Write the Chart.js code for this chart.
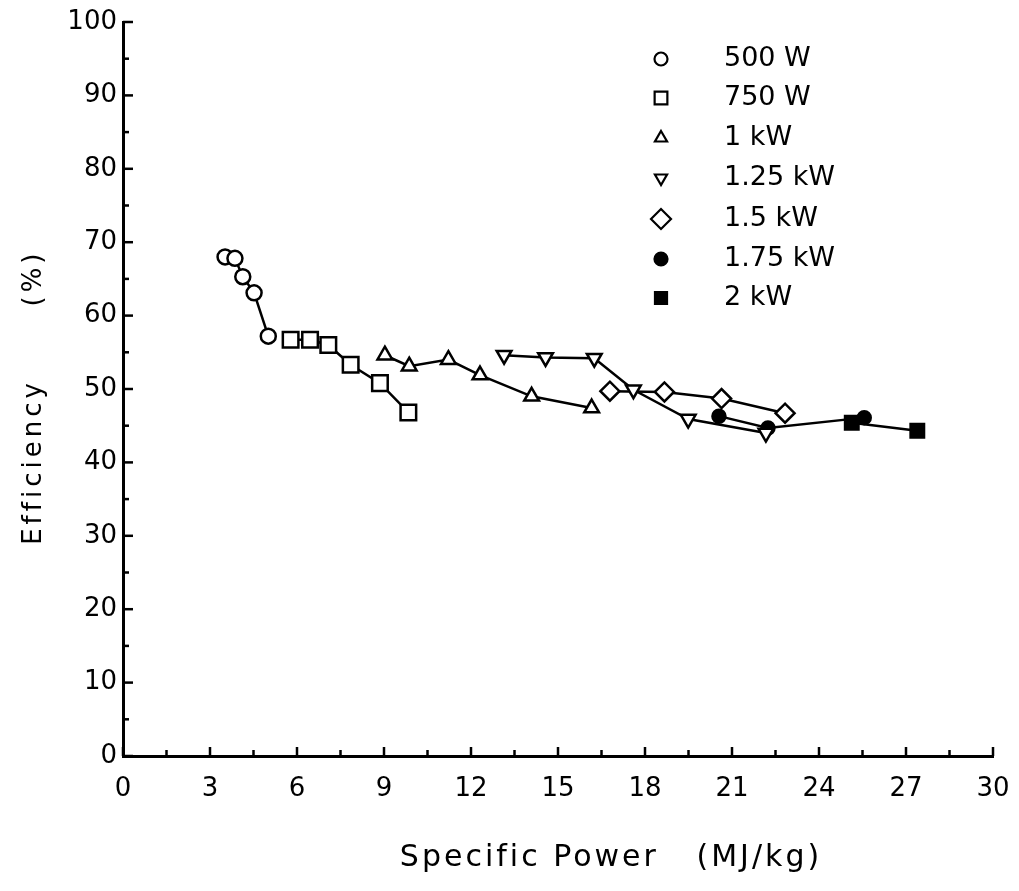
<!DOCTYPE html>
<html><head><meta charset="utf-8">
<script src="https://cdn.jsdelivr.net/npm/chart.js@4"></script>
<style>html,body{margin:0;padding:0;background:#fff;overflow:hidden}canvas{display:block}</style>
</head><body>
<canvas id="c" width="1019" height="891"></canvas>
<script>
// ---- data ----
const xTickValues = [0,3,6,9,12,15,18,21,24,27,30];
const yTickValues = [0,10,20,30,40,50,60,70,80,90,100];
const seriesNames = ['500 W','750 W','1 kW','1.25 kW','1.5 kW','1.75 kW','2 kW'];
const xTitle = 'Specific Power   (MJ/kg)';
const yTitleA = 'Efficiency';
const yTitleB = '(%)';

const w500x  = [3.52, 3.86, 4.13, 4.52, 5.01];
const w500y  = [68.0, 67.8, 65.3, 63.1, 57.2];
const w750x  = [5.78, 6.45, 7.08, 7.85, 8.86, 9.84];
const w750y  = [56.7, 56.7, 56.0, 53.3, 50.8, 46.8];
const kw1x   = [9.03, 9.87, 11.22, 12.31, 14.09, 16.16];
const kw1y   = [54.6, 53.1, 54.0, 51.9, 49.0, 47.4];
const kw125x = [13.14, 14.57, 16.25, 17.60, 19.49, 22.17];
const kw125y = [54.6, 54.3, 54.2, 49.9, 45.9, 44.0];
const kw15x  = [16.79, 18.67, 20.64, 22.83];
const kw15y  = [49.7, 49.6, 48.7, 46.7];
const kw175x = [20.55, 22.24, 25.56];
const kw175y = [46.3, 44.7, 46.1];
const kw2x   = [25.13, 27.39];
const kw2y   = [45.4, 44.3];

const pts = (xs, ys) => xs.map((x, i) => ({x, y: ys[i]}));

const styles = [
  {pointStyle:'circle',   radius:7.5, rot:0,   fill:'#fff', lr:6.5},
  {pointStyle:'rect',     radius:11,  rot:0,   fill:'#fff', lr:9},
  {pointStyle:'triangle', radius:8.5, rot:0,   fill:'#fff', lr:7},
  {pointStyle:'triangle', radius:8.5, rot:180, fill:'#fff', lr:7},
  {pointStyle:'rectRot',  radius:9.5, rot:0,   fill:'#fff', lr:10},
  {pointStyle:'circle',   radius:6.5, rot:0,   fill:'#000', lr:6.5},
  {pointStyle:'rect',     radius:9.5, rot:0,   fill:'#000', lr:8.5}
];
const seriesData = [pts(w500x,w500y), pts(w750x,w750y), pts(kw1x,kw1y), pts(kw125x,kw125y),
                    pts(kw15x,kw15y), pts(kw175x,kw175y), pts(kw2x,kw2y)];

const FONT = "'DejaVu Sans', sans-serif";

const datasets = seriesNames.map((name, i) => ({
  label: name,
  data: seriesData[i],
  showLine: true,
  borderColor: '#000',
  borderWidth: 2.5,
  tension: 0,
  pointStyle: styles[i].pointStyle,
  pointRadius: styles[i].radius,
  pointRotation: styles[i].rot,
  pointBackgroundColor: styles[i].fill,
  pointBorderColor: '#000',
  pointBorderWidth: 2.5
}));

const decor = {
  id: 'decor',
  afterDraw(chart) {
    const ctx = chart.ctx, xs = chart.scales.x, ys = chart.scales.y;
    const x0 = xs.getPixelForValue(0), y0 = ys.getPixelForValue(0);
    ctx.save();
    ctx.strokeStyle = '#000';
    ctx.lineWidth = 2.5;
    // inward ticks on x axis
    for (let v = 0; v <= 30.001; v += 1.5) {
      const major = Math.abs(v / 3 - Math.round(v / 3)) < 1e-6;
      const px = xs.getPixelForValue(v);
      ctx.beginPath(); ctx.moveTo(px, y0); ctx.lineTo(px, y0 - (major ? 9 : 6)); ctx.stroke();
    }
    // inward ticks on y axis
    for (let v = 0; v <= 100.001; v += 5) {
      const major = v % 10 === 0;
      const py = ys.getPixelForValue(v);
      ctx.beginPath(); ctx.moveTo(x0, py); ctx.lineTo(x0 + (major ? 10 : 6), py); ctx.stroke();
    }
    // legend
    const lx = 661, tx = 724, rows = [59, 98, 138, 178, 219, 259, 298];
    ctx.font = '27px ' + FONT;
    ctx.textBaseline = 'middle';
    ctx.textAlign = 'left';
    seriesNames.forEach((name, i) => {
      const st = styles[i];
      ctx.fillStyle = st.fill; ctx.strokeStyle = '#000'; ctx.lineWidth = 2.2;
      Chart.helpers.drawPoint(ctx, {pointStyle: st.pointStyle, radius: st.lr, rotation: st.rot, borderWidth: 2.2}, lx, rows[i]);
      ctx.fillStyle = '#000';
      ctx.fillText(name, tx, rows[i]);
    });
    // axis titles
    try { ctx.letterSpacing = '3px'; } catch (e) {}
    ctx.font = '30px ' + FONT;
    ctx.textAlign = 'center';
    ctx.fillText(xTitle, 611, 858);
    ctx.translate(34, 0);
    ctx.rotate(-Math.PI / 2);
    try { ctx.letterSpacing = '4px'; } catch (e) {}
    ctx.font = '26px ' + FONT;
    ctx.fillText(yTitleA, -462, 0);
    ctx.fillText(yTitleB, -278, 0);
    ctx.restore();
  }
};

new Chart(document.getElementById('c'), {
  type: 'scatter',
  data: { datasets },
  options: {
    responsive: false,
    animation: false,
    devicePixelRatio: 1,
    layout: { padding: { top: 22, right: 26, left: 0, bottom: 0 } },
    plugins: { legend: { display: false }, tooltip: { enabled: false } },
    scales: {
      x: {
        type: 'linear', min: 0, max: 30,
        afterBuildTicks: s => { s.ticks = xTickValues.map(v => ({ value: v })); },
        afterFit: s => { s.height = 135; s.paddingLeft = 0; s.paddingRight = 0; },
        ticks: { color: '#000', font: { family: FONT, size: 26 }, padding: 18, maxRotation: 0, autoSkip: false,
                 callback: v => String(v) },
        grid: { display: false, drawTicks: false },
        border: { display: true, color: '#000', width: 3 }
      },
      y: {
        type: 'linear', min: 0, max: 100,
        afterBuildTicks: s => { s.ticks = yTickValues.map(v => ({ value: v })); },
        afterFit: s => { s.width = 123; s.paddingTop = 0; s.paddingBottom = 0; },
        ticks: { color: '#000', font: { family: FONT, size: 26 }, padding: 6, autoSkip: false,
                 callback: v => String(v) },
        grid: { display: false, drawTicks: false },
        border: { display: true, color: '#000', width: 3 }
      }
    }
  },
  plugins: [decor]
});
</script>
</body></html>
